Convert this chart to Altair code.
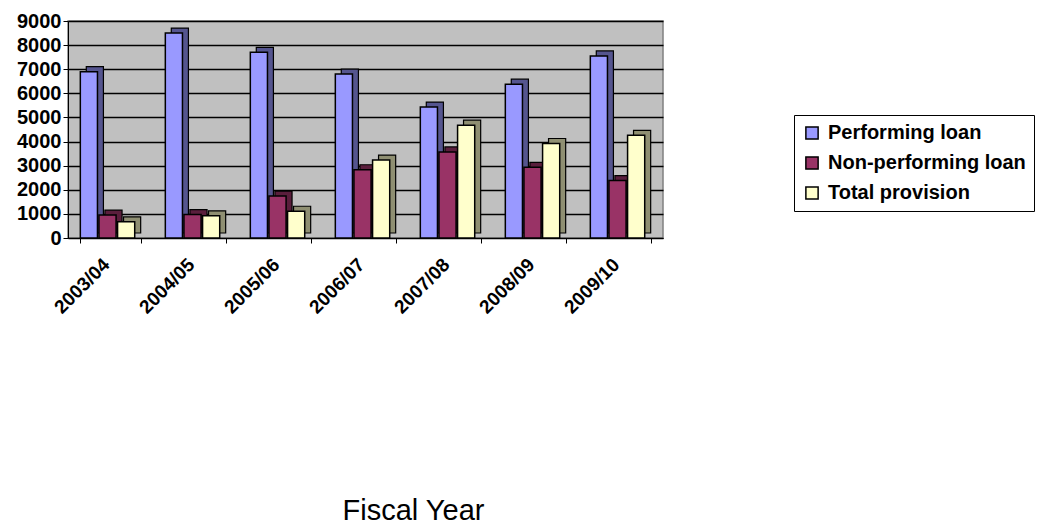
import altair as alt
import pandas as pd

years = ["2003/04", "2004/05", "2005/06", "2006/07", "2007/08", "2008/09", "2009/10"]
series = ["Performing loan", "Non-performing loan", "Total provision"]
performing = [6900, 8500, 7700, 6800, 5430, 6380, 7550]
non_performing = [950, 970, 1740, 2830, 3570, 2930, 2380]
provision = [670, 920, 1110, 3230, 4680, 3920, 4260]

front_colors = ["#9999FF", "#993366", "#FFFFCC"]
side_keys = ["P side", "N side", "T side"]
side_colors = ["#55558F", "#5A1E3C", "#8F8F72"]

rows = []
for i, y in enumerate(years):
    for s, k, vals in zip(series, side_keys, [performing, non_performing, provision]):
        rows.append({"Year": y, "Series": s, "Side": k, "Value": vals[i]})
df = pd.DataFrame(rows)

x_enc = alt.X("Year:N", sort=years, title="Fiscal Year",
              scale=alt.Scale(paddingInner=0.29, paddingOuter=0.145),
              axis=alt.Axis(labelAngle=-45, labelFont="Arial", labelFontWeight="bold",
                            labelFontSize=19, labelColor="black", tickColor="black",
                            domainColor="black", tickSize=5, labelPadding=12,
                            labelOffset=-11, tickBand="extent",
                            titleFont="Arial", titleFontWeight="normal", titleFontSize=29,
                            titleColor="black", titlePadding=180, titleX=345,
                            titleAlign="center", grid=False,
                            labelAlign="right", labelBaseline="top"))
y_enc = alt.Y("Value:Q", title=None,
              scale=alt.Scale(domain=[0, 9000], nice=False),
              axis=alt.Axis(values=list(range(0, 9001, 1000)), format="d",
                            labelFont="Arial", labelFontWeight="bold", labelFontSize=20,
                            labelColor="black", tickColor="black", domainColor="black",
                            tickSize=5, gridColor="black", gridWidth=1.5, labelPadding=2))

side = alt.Chart(df).mark_bar(yOffset=-5, stroke="black", strokeWidth=1.2).encode(
    x=x_enc, y=y_enc,
    xOffset=alt.XOffset("Side:N", sort=side_keys,
                        scale=alt.Scale(paddingInner=0.08, paddingOuter=0.16, align=1)),
    color=alt.Color("Side:N", sort=side_keys,
                    scale=alt.Scale(domain=side_keys, range=side_colors), legend=None),
)
front = alt.Chart(df).mark_bar(stroke="black", strokeWidth=1.5).encode(
    x=x_enc, y=y_enc,
    xOffset=alt.XOffset("Series:N", sort=series,
                        scale=alt.Scale(paddingInner=0.08, paddingOuter=0.16, align=0)),
    fill=alt.Fill("Series:N", sort=series,
                  scale=alt.Scale(domain=series, range=front_colors),
                  legend=alt.Legend(title=None, orient="none", legendX=726, legendY=94,
                                    symbolType="square", symbolSize=150,
                                    symbolStrokeColor="black", symbolStrokeWidth=1.5,
                                    labelFont="Arial", labelFontWeight="bold",
                                    labelFontSize=20, labelColor="black", labelLimit=400,
                                    labelOffset=6,
                                    strokeColor="black", padding=8, rowPadding=10,
                                    fillColor="white")),
)

chart = alt.layer(side, front).resolve_scale(
    xOffset="independent", color="independent", fill="independent"
).properties(
    width=595, height=217,
    padding={"left": 16, "top": 11, "right": 5, "bottom": 3},
    background="white",
).configure_view(fill="#C0C0C0", stroke="#808080", strokeWidth=1.5)

chart.save("out.html", embed_options={"renderer": "svg", "actions": False})
